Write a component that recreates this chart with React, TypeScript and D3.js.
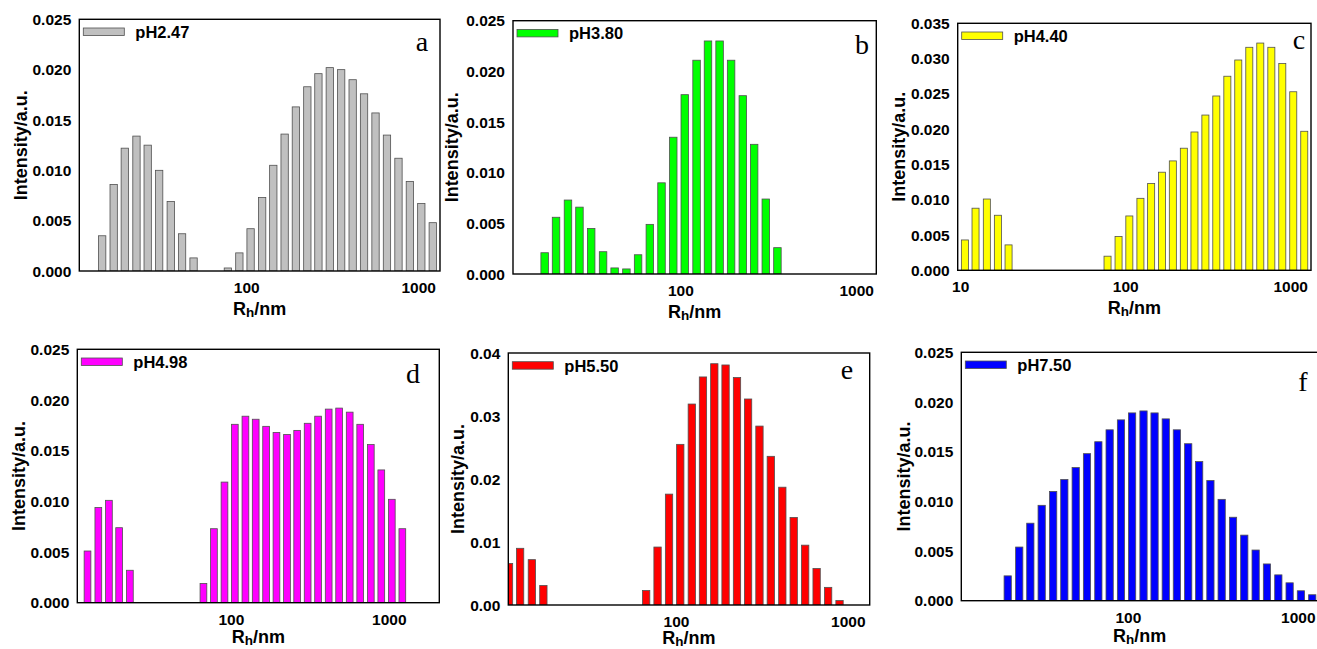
import { scaleLinear, scaleLog, range } from "d3"

// DLS size bins (nm), shared by all panels
const sizeBins = [10.6, 12.3, 14.4, 16.8, 19.5, 22.8, 26.5, 30.9, 36.1, 42.0, 49.0, 57.1, 66.6, 77.6, 90.5, 105.2,
    122.8, 142.6, 166, 193, 225, 261, 304, 354, 413, 481, 561, 654, 763, 889, 1036, 1208]

const intensityA = [0.0035, 0.0086, 0.0122, 0.0134, 0.0125, 0.0100, 0.0069, 0.0037, 0.0013, 0, 0,
    0.0003, 0.0018, 0.0042, 0.0073, 0.0105, 0.0136, 0.0163, 0.0183, 0.0196, 0.0202, 0.0200, 0.0190,
    0.0176, 0.0157, 0.0135, 0.0112, 0.0089, 0.0067, 0.0048]
const intensityB = [0.0021, 0.0056, 0.0073, 0.0066, 0.0045, 0.0022, 0.0006, 0.0005, 0.0019, 0.0049,
    0.0090, 0.0135, 0.0177, 0.0211, 0.0230, 0.0230, 0.0211, 0.0176, 0.0128, 0.0074, 0.0026]
const intensityC = [0.0043, 0.0088, 0.0101, 0.0078, 0.0036, 0, 0, 0, 0, 0, 0, 0, 0,
    0.0020, 0.0048, 0.0077, 0.0102, 0.0123, 0.0139, 0.0155, 0.0173, 0.0196, 0.0220, 0.0247, 0.0275,
    0.0298, 0.0316, 0.0322, 0.0316, 0.0293, 0.0253, 0.0197]
const intensityD = [0.0051, 0.0094, 0.0101, 0.0074, 0.0032, 0, 0, 0, 0, 0, 0,
    0.0019, 0.0073, 0.0119, 0.0176, 0.0184, 0.0181, 0.0174, 0.0168, 0.0166, 0.0170, 0.0177, 0.0184,
    0.0191, 0.0192, 0.0188, 0.0176, 0.0156, 0.0131, 0.0102, 0.0073]
const intensityE = [0.0066, 0.0090, 0.0072, 0.0031, 0, 0, 0, 0, 0, 0, 0, 0,
    0.0023, 0.0092, 0.0176, 0.0255, 0.0319, 0.0362, 0.0383, 0.0381, 0.0361, 0.0327, 0.0284, 0.0236,
    0.0187, 0.0139, 0.0095, 0.0058, 0.0028, 0.0007]
const intensityF = [0.0025, 0.0054, 0.0078, 0.0096, 0.0110, 0.0122, 0.0134, 0.0148, 0.0160, 0.0172,
    0.0182, 0.0189, 0.0191, 0.0189, 0.0183, 0.0172, 0.0158, 0.0140, 0.0121, 0.0102, 0.0084, 0.0066,
    0.0051, 0.0037, 0.0026, 0.0018, 0.0010, 0.0006]

const phLabels = ["pH2.47", "pH3.80", "pH4.40", "pH4.98", "pH5.50", "pH7.50"]
const panelLetters = ["a", "b", "c", "d", "e", "f"]
const barColors = ["#c0c0c0", "#00ff00", "#ffff00", "#ff00ff", "#ff0000", "#0000ff"]

const panels = [
    { box: [79.3, 440, 19.3, 271], dom: [10.6, 1331], yMax: 0.025, step: 0.005, dec: 3, start: 2, vals: intensityA, xt: [100, 1000], tdx: 59, ty: 44, letter: [422, 51] },
    { box: [513, 876.3, 20.7, 274], dom: [11.1, 1292], yMax: 0.025, step: 0.005, dec: 3, start: 3, vals: intensityB, xt: [100, 1000], tdx: 61, ty: 44, letter: [862, 54] },
    { box: [957.7, 1311, 23.3, 270.3], dom: [9.59, 1327], yMax: 0.035, step: 0.005, dec: 3, start: 0, vals: intensityC, xt: [10, 100, 1000], tdx: 59, ty: 44, letter: [1299, 49] },
    { box: [77.3, 439.3, 349.3, 602.7], dom: [10.6, 2070], yMax: 0.025, step: 0.005, dec: 3, start: 1, vals: intensityD, xt: [100, 1000], tdx: 59, ty: 40, letter: [413, 383] },
    { box: [508.3, 869.7, 353, 605], dom: [10.5, 1332], yMax: 0.04, step: 0.01, dec: 2, start: 0, vals: intensityE, xt: [100, 1000], tdx: 51, ty: 39, letter: [847, 379] },
    { box: [961.3, 1318, 352.3, 600.7], dom: [10.4, 1306], yMax: 0.025, step: 0.005, dec: 3, start: 4, vals: intensityF, xt: [100, 1000], tdx: 58, ty: 41, letter: [1303, 391] },
]

const sans = "'Liberation Sans', Arial, sans-serif"

const Panel = ({ p, i }) => {
    const [l, r, t, b] = p.box
    const x = scaleLog().domain(p.dom).range([l, r])
    const y = scaleLinear().domain([0, p.yMax]).range([b, t])
    const binStep = (x(1000) - x(100)) / 15
    const bw = binStep * 0.64
    const yTicks = range(0, p.yMax + p.step / 2, p.step)
    const clipId = `clip-${i}`

    return (
        <g>
            <clipPath id={clipId}>
                <rect x={l} y={t} width={r - l} height={b - t} />
            </clipPath>
            <g clipPath={`url(#${clipId})`}>
                {p.vals.map((v, j) => v > 0 && (
                    <rect key={j}
                        x={x(sizeBins[p.start + j]) - bw / 2}
                        y={y(v)}
                        width={bw}
                        height={b - y(v)}
                        fill={barColors[i]}
                        stroke="#505050"
                        strokeWidth={0.8} />
                ))}
            </g>
            <rect x={l} y={t} width={r - l} height={b - t} fill="none" stroke="#000" strokeWidth={1.4} />
            {yTicks.map((d) => (
                <text key={d} x={l - 8} y={y(d)} dy="0.36em" textAnchor="end"
                    fontFamily={sans} fontWeight="bold" fontSize={15.5}>{d.toFixed(p.dec)}</text>
            ))}
            {p.xt.map((d) => (
                <text key={d} x={x(d)} y={b + 22} textAnchor="middle"
                    fontFamily={sans} fontWeight="bold" fontSize={15.5}>{d}</text>
            ))}
            <text transform={`translate(${l - p.tdx},${(t + b) / 2}) rotate(-90)`} textAnchor="middle" dy="0.35em"
                fontFamily={sans} fontWeight="bold" fontSize={18}>Intensity/a.u.</text>
            <text x={(l + r) / 2} y={b + p.ty} textAnchor="middle" fontFamily={sans} fontWeight="bold" fontSize={18}>
                R<tspan fontSize={13.5} dy={2}>h</tspan><tspan dy={-2}>/nm</tspan>
            </text>
            <rect x={l + 4} y={t + 8.7} width={41} height={7.5} fill={barColors[i]} stroke="#505050" strokeWidth={0.8} />
            <text x={l + 56} y={t + 18.5} fontFamily={sans} fontWeight="bold" fontSize={16.5}>{phLabels[i]}</text>
            <text x={p.letter[0]} y={p.letter[1]} textAnchor="middle" fontFamily="'Liberation Serif', 'Times New Roman', serif"
                fontSize={28}>{panelLetters[i]}</text>
        </g>
    )
}

export default function App() {
    return (
        <svg width={1317} height={649} style={{ position: "absolute", left: 0, top: 0, background: "#fff" }}>
            {panels.map((p, i) => <Panel key={i} p={p} i={i} />)}
        </svg>
    )
}
